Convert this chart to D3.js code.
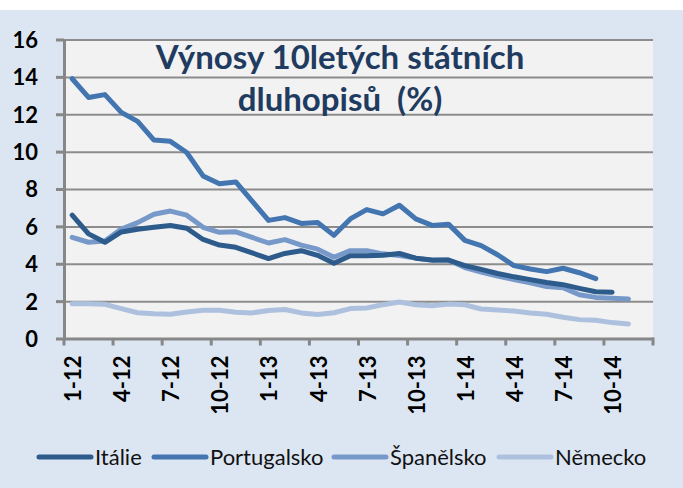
<html lang="cs">
<head>
<meta charset="utf-8">
<title>Výnosy 10letých státních dluhopisů</title>
<style>
  body { margin: 0; background: white; font-family: Lato, "Open Sans", sans-serif; }
  svg { display: block; }
  .grid line { stroke: #8c8c8c; stroke-width: 2; }
  .grid path { display: none; }
  .axis path, .axis line { stroke: #878787; stroke-width: 3; fill: none; }
  .axis text { font-size: 22px; font-weight: bold; fill: #000; font-family: Lato, sans-serif; }
  .title { font-size: 33px; font-weight: bold; fill: #1f3b60; white-space: pre; }
  .legend text { font-size: 22px; fill: #111; }
  .series { fill: none; stroke-width: 5; stroke-linejoin: round; stroke-linecap: round; }
</style>
</head>
<body>
<script src="https://cdnjs.cloudflare.com/ajax/libs/d3/7.8.5/d3.min.js"></script>
<script>
// months Jan 2012 .. Dec 2014
var months = ["1-12","2-12","3-12","4-12","5-12","6-12","7-12","8-12","9-12","10-12","11-12","12-12",
              "1-13","2-13","3-13","4-13","5-13","6-13","7-13","8-13","9-13","10-13","11-13","12-13",
              "1-14","2-14","3-14","4-14","5-14","6-14","7-14","8-14","9-14","10-14","11-14","12-14"];

var seriesNames = ["Itálie", "Portugalsko", "Španělsko", "Německo"];

var italie = [6.6, 5.6, 5.15, 5.7, 5.85, 5.95, 6.05, 5.9, 5.3, 5.0, 4.88, 4.58,
              4.28, 4.55, 4.7, 4.45, 4.03, 4.43, 4.43, 4.45, 4.55, 4.3, 4.2, 4.2,
              3.9, 3.7, 3.48, 3.3, 3.15, 3.0, 2.88, 2.68, 2.5, 2.48];
var portugalsko = [13.9, 12.9, 13.05, 12.1, 11.62, 10.62, 10.55, 9.95, 8.7, 8.28, 8.38, 7.35,
                   6.32, 6.47, 6.16, 6.21, 5.52, 6.4, 6.9, 6.67, 7.13, 6.4, 6.05, 6.12,
                   5.25, 4.97, 4.48, 3.9, 3.72, 3.58, 3.76, 3.52, 3.2];
var spanelsko = [5.41, 5.15, 5.22, 5.86, 6.2, 6.65, 6.82, 6.6, 5.95, 5.68, 5.71, 5.41,
                 5.11, 5.29, 5.0, 4.78, 4.35, 4.7, 4.7, 4.53, 4.44, 4.3, 4.18, 4.2,
                 3.8, 3.56, 3.34, 3.16, 2.98, 2.78, 2.72, 2.34, 2.2, 2.16, 2.12];
var nemecko = [1.86, 1.86, 1.83, 1.6, 1.38, 1.33, 1.3, 1.42, 1.51, 1.51, 1.4, 1.37,
               1.5, 1.55, 1.37, 1.28, 1.38, 1.6, 1.63, 1.81, 1.95, 1.81, 1.75, 1.84,
               1.8, 1.58, 1.52, 1.47, 1.37, 1.3, 1.14, 1.01, 0.98, 0.85, 0.78];

var colors = ["#2c5b8c", "#4375b1", "#7799c9", "#adc1de"];
var yTicks = [0, 2, 4, 6, 8, 10, 12, 14, 16];

var fullwidth = 683, fullheight = 488;
var margin = { top: 39.5, left: 64 };
var width = 653 - margin.left;
var height = 338.5 - margin.top;

var svg = d3.select("body").append("svg")
    .attr("width", fullwidth)
    .attr("height", fullheight);

// chart background
svg.append("rect")
    .attr("x", 0).attr("y", 10)
    .attr("width", fullwidth).attr("height", fullheight - 10)
    .attr("fill", "#dce6f2");

var g = svg.append("g")
    .attr("transform", "translate(" + margin.left + "," + margin.top + ")");

g.append("rect")
    .attr("width", width).attr("height", height)
    .attr("fill", "#f2f2f2");

var xScale = d3.scaleBand().domain(months).range([0, width]);
var yScale = d3.scaleLinear().domain([0, 16]).range([height, 0]);

// gridlines
g.append("g")
    .attr("class", "grid")
    .call(d3.axisLeft(yScale).tickValues(yTicks.slice(1)).tickSize(-width).tickFormat(""));

// y axis
var yAxis = g.append("g")
    .attr("class", "axis")
    .call(d3.axisLeft(yScale).tickValues(yTicks).tickSize(8).tickSizeOuter(0).tickPadding(18));
yAxis.selectAll("text").attr("dy", "0.36em");

// x axis: labels every 3 months, ticks on category boundaries
var xAxis = g.append("g")
    .attr("class", "axis")
    .attr("transform", "translate(0," + height + ")")
    .call(d3.axisBottom(xScale)
        .tickValues(months.filter(function(d, i) { return i % 3 === 0; }))
        .tickSize(0).tickSizeOuter(0));

xAxis.selectAll("text")
    .attr("transform", "rotate(-90)")
    .attr("x", -17).attr("y", 1)
    .attr("dy", "0.36em")
    .style("text-anchor", "end");

var boundaries = months.filter(function(d, i) { return i % 3 === 0; });
xAxis.selectAll(".bound")
    .data(boundaries)
    .enter().append("line")
    .attr("class", "bound")
    .attr("x1", function(d) { return xScale(d); })
    .attr("x2", function(d) { return xScale(d); })
    .attr("y1", 0).attr("y2", 7);
xAxis.append("line")
    .attr("x1", width).attr("x2", width)
    .attr("y1", -1).attr("y2", 7);

// series
var allSeries = [italie, portugalsko, spanelsko, nemecko];
var line = d3.line()
    .x(function(d, i) { return xScale(months[i]) + xScale.bandwidth() / 2; })
    .y(function(d) { return yScale(d); });

// draw Německo first, Itálie last on top of Španělsko
[3, 1, 2, 0].forEach(function(k) {
    g.append("path")
        .datum(allSeries[k])
        .attr("class", "series")
        .attr("stroke", colors[k])
        .attr("d", line);
});

// title
var title = svg.append("text")
    .attr("class", "title")
    .attr("text-anchor", "middle");
title.append("tspan").attr("x", 340).attr("y", 69).text("Výnosy 10letých státních");
title.append("tspan").attr("x", 340).attr("y", 111).text("dluhopisů  (%)");

// legend
var legendX = [95, 210, 390, 555];
var legend = svg.append("g").attr("class", "legend")
    .selectAll("g")
    .data(seriesNames)
    .enter().append("g")
    .attr("transform", function(d, i) { return "translate(" + legendX[i] + ",457)"; });

legend.append("line")
    .attr("x1", -56).attr("x2", -4)
    .attr("stroke", function(d, i) { return colors[i]; })
    .attr("stroke-width", 5)
    .attr("stroke-linecap", "round");

legend.append("text")
    .attr("x", 0)
    .attr("dy", "0.35em")
    .text(function(d) { return d; });
</script>
</body>
</html>
